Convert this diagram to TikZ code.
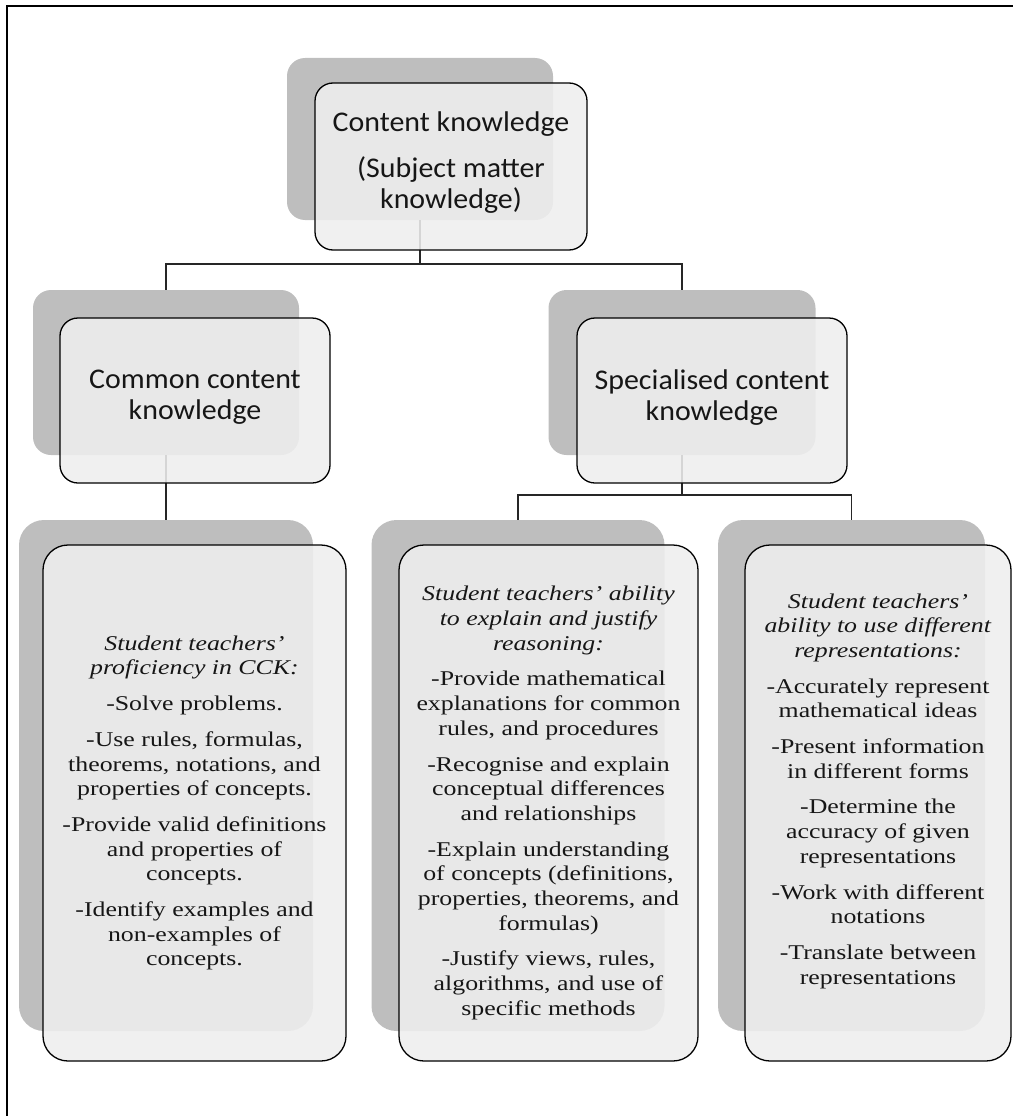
\documentclass[tikz,border=0pt]{standalone}
\usepackage{fontspec}
\newfontfamily\headfont[FakeStretch=1.05]{Carlito}
\newfontfamily\bodyfont[FakeStretch=1.23]{Liberation Serif}
\definecolor{shadowgray}{RGB}{190,190,190}
\definecolor{panelgray}{RGB}{238,238,238}
\definecolor{inkgray}{RGB}{22,22,22}
\newcommand{\pgap}{\\[11pt]}

\tikzset{
  backplate/.style={rounded corners=#1, fill=shadowgray, draw=none, inner sep=0pt},
  panel/.style={rounded corners=#1, fill=panelgray, fill opacity=0.88, draw=black, line width=1.3pt, inner sep=0pt},
  headtext/.style={align=center, text=inkgray, font=\headfont\fontsize{28.5}{31}\selectfont, inner sep=0pt},
  bodytext/.style={align=center, text=inkgray, font=\bodyfont\fontsize{21}{24.7}\selectfont, inner sep=0pt},
  link/.style={draw=black!85, line width=1.3pt},
  frameline/.style={draw=black, line width=2pt}
}

\begin{document}
\begin{tikzpicture}[x=1pt, y=-1pt]
\useasboundingbox (0,0) rectangle (1013,1116);

% open frame: top and left edges only
\coordinate (fTL) at (7,6);
\coordinate (fTR) at (1013,6);
\coordinate (fBL) at (7,1116);
\draw[frameline] (fBL) -- (fTL) -- (fTR);

% grey back plates
\node[backplate=18pt, minimum width=266pt, minimum height=162pt] (topS) at (420,139) {};
\node[backplate=18pt, minimum width=266pt, minimum height=165pt] (ccS) at (166,372.5) {};
\node[backplate=18pt, minimum width=267pt, minimum height=165pt] (scS) at (682,372.5) {};
\node[backplate=25pt, minimum width=294pt, minimum height=511pt] (blS) at (166,775.5) {};
\node[backplate=25pt, minimum width=293pt, minimum height=511pt] (bmS) at (518,775.5) {};
\node[backplate=25pt, minimum width=267pt, minimum height=511pt] (brS) at (851.5,775.5) {};

% tree connectors
\coordinate (j1) at (420,264);
\coordinate (j2) at (682,495);
\draw[link] (topS.south) -- (j1);
\draw[link] (j1) -| (ccS.north);
\draw[link] (j1) -| (scS.north);
\draw[link] (ccS.south) -- (blS.north);
\draw[link] (scS.south) -- (j2);
\draw[link] (j2) -| (bmS.north);
\draw[link] (j2) -| (brS.north);

% front panels
\node[panel=18pt, minimum width=272pt, minimum height=167pt] (top) at (451,166.5) {};
\node[panel=18pt, minimum width=270pt, minimum height=165pt] (cc) at (195,400.5) {};
\node[panel=18pt, minimum width=270pt, minimum height=165pt] (sc) at (712,400.5) {};
\node[panel=25pt, minimum width=303pt, minimum height=516pt] (bl) at (194.5,803) {};
\node[panel=25pt, minimum width=299pt, minimum height=516pt] (bm) at (548.5,803) {};
\node[panel=25pt, minimum width=266pt, minimum height=516pt] (br) at (878,803) {};

% headings
\node[headtext] (topT) at ([yshift=4pt]top.center) {Content knowledge\\[15pt](Subject matter\\knowledge)};
\node[headtext] (ccT) at ([yshift=3pt]cc.center) {Common content\\knowledge};
\node[headtext] (scT) at ([yshift=3pt]sc.center) {Specialised content\\knowledge};

% descriptions
\node[bodytext] (blT) at (bl.center) {%
\textit{Student teachers’}\\\textit{proficiency in CCK:}\pgap
-Solve problems.\pgap
-Use rules, formulas,\\theorems, notations, and\\properties of concepts.\pgap
-Provide valid definitions\\and properties of\\concepts.\pgap
-Identify examples and\\non-examples of\\concepts.};

\node[bodytext] (bmT) at (bm.center) {%
\textit{Student teachers’ ability}\\\textit{to explain and justify}\\\textit{reasoning:}\pgap
-Provide mathematical\\explanations for common\\rules, and procedures\pgap
-Recognise and explain\\conceptual differences\\and relationships\pgap
-Explain understanding\\of concepts (definitions,\\properties, theorems, and\\formulas)\pgap
-Justify views, rules,\\algorithms, and use of\\specific methods};

\node[bodytext] (brT) at ([yshift=12pt]br.center) {%
\textit{Student teachers’}\\\textit{ability to use different}\\\textit{representations:}\pgap
-Accurately represent\\mathematical ideas\pgap
-Present information\\in different forms\pgap
-Determine the\\accuracy of given\\representations\pgap
-Work with different\\notations\pgap
-Translate between\\representations};
\end{tikzpicture}
\end{document}
